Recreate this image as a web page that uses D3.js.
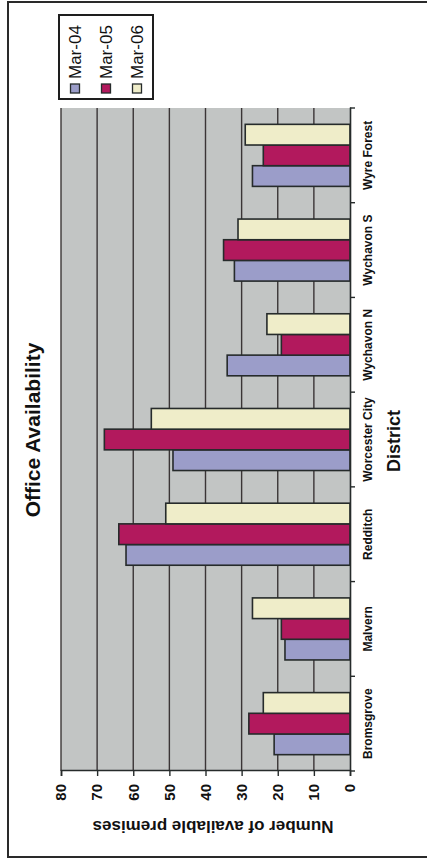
<!DOCTYPE html>
<html>
<head>
<meta charset="utf-8">
<script src="https://cdn.jsdelivr.net/npm/d3@7"></script>
<style>
  html, body { margin: 0; padding: 0; background: #ffffff; }
  svg { display: block; }
  text { font-family: "Liberation Sans", Arial, Helvetica, sans-serif; }
</style>
</head>
<body>
<script>
// Office availability by district, three survey dates
const districts = ["Bromsgrove", "Malvern", "Redditch", "Worcester City", "Wychavon N", "Wychavon S", "Wyre Forest"];
const seriesNames = ["Mar-04", "Mar-05", "Mar-06"];
const mar04 = [21, 18, 62, 49, 34, 32, 27];
const mar05 = [28, 19, 64, 68, 19, 35, 24];
const mar06 = [24, 27, 51, 55, 23, 31, 29];
const valueTicks = [0, 10, 20, 30, 40, 50, 60, 70, 80];
const seriesColors = ["#9b9dc9", "#b2195d", "#efedc9"];

const W = 427, H = 865;
const svg = d3.select("body").append("svg").attr("width", W).attr("height", H);

// The sheet is laid out landscape (H wide, W tall) and turned a quarter turn
const g = svg.append("g").attr("transform", `translate(0,${H}) rotate(-90)`);

const plot = { left: 94, right: 757, top: 61, bottom: 350 };
const ink = "#262b2b";

// outer frame (runs off the right edge of the page)
g.append("rect")
  .attr("x", 8).attr("y", 8)
  .attr("width", 855).attr("height", 460)
  .attr("fill", "none").attr("stroke", "#2a2a2a").attr("stroke-width", 2);

const x0 = d3.scaleBand().domain(districts).range([plot.left, plot.right]).padding(0);
const groupFrac = 0.655;
const gap = x0.bandwidth() * (1 - groupFrac) / 2;
const x1 = d3.scaleBand().domain(seriesNames).range([gap, x0.bandwidth() - gap]).padding(0);
const y = d3.scaleLinear().domain([0, 80]).range([plot.bottom, plot.top]);

// plot background
g.append("rect")
  .attr("x", plot.left).attr("y", plot.top)
  .attr("width", plot.right - plot.left).attr("height", plot.bottom - plot.top)
  .attr("fill", "#c2c5c4");

// horizontal gridlines
g.append("g").selectAll("line").data(valueTicks.filter(v => v > 0)).join("line")
  .attr("x1", plot.left).attr("x2", plot.right)
  .attr("y1", d => y(d)).attr("y2", d => y(d))
  .attr("stroke", "#3a3536").attr("stroke-width", 1.4);

// bars
const series = [mar04, mar05, mar06];
const groups = g.append("g").selectAll("g").data(districts).join("g")
  .attr("transform", d => `translate(${x0(d)},0)`);
groups.selectAll("rect")
  .data((d, i) => seriesNames.map((s, k) => ({ s, v: series[k][i], k })))
  .join("rect")
  .attr("x", d => x1(d.s))
  .attr("y", d => y(d.v))
  .attr("width", x1.bandwidth())
  .attr("height", d => y(0) - y(d.v))
  .attr("fill", d => seriesColors[d.k])
  .attr("stroke", ink).attr("stroke-width", 1.6);

// value axis
const yAxis = d3.axisLeft(y).tickValues(valueTicks).tickSize(5).tickPadding(8);
const ya = g.append("g").attr("transform", `translate(${plot.left},0)`).call(yAxis);
ya.select(".domain").attr("stroke", ink).attr("stroke-width", 1.6);
ya.selectAll(".tick line").attr("stroke", ink).attr("stroke-width", 1.4);
ya.selectAll(".tick text")
  .attr("fill", "#111").attr("font-size", 15).attr("font-weight", "bold")
  .attr("font-family", '"Liberation Sans", Arial, sans-serif');

// category axis
const xAxis = d3.axisBottom(x0).tickSize(0).tickPadding(0);
const xa = g.append("g").attr("transform", `translate(0,${plot.bottom})`).call(xAxis);
xa.select(".domain").attr("stroke", ink).attr("stroke-width", 1.6);
xa.selectAll(".tick text")
  .attr("dy", null).attr("y", 22)
  .attr("fill", "#111").attr("font-size", 12).attr("font-weight", "bold")
  .attr("font-family", '"Liberation Sans", Arial, sans-serif');
// tick marks between districts
xa.append("g").selectAll("line")
  .data(d3.range(districts.length + 1))
  .join("line")
  .attr("x1", i => plot.left + i * x0.step()).attr("x2", i => plot.left + i * x0.step())
  .attr("y1", 0).attr("y2", 5)
  .attr("stroke", ink).attr("stroke-width", 1.4);

// titles
g.append("text")
  .attr("x", 435).attr("y", 40)
  .attr("text-anchor", "middle")
  .attr("font-size", 21).attr("font-weight", "bold").attr("fill", "#111")
  .text("Office Availability");

g.append("text")
  .attr("x", 424).attr("y", 400)
  .attr("text-anchor", "middle")
  .attr("font-size", 18).attr("font-weight", "bold").attr("fill", "#111")
  .text("District");

g.append("text")
  .attr("transform", "translate(44,213) rotate(-90)")
  .attr("text-anchor", "middle")
  .attr("font-size", 17).attr("font-weight", "bold").attr("fill", "#111")
  .text("Number of available premises");

// legend
const legend = g.append("g");
legend.append("rect")
  .attr("x", 766).attr("y", 59).attr("width", 84).attr("height", 94)
  .attr("fill", "#ffffff").attr("stroke", "#1e1e1e").attr("stroke-width", 2);
const items = legend.selectAll("g").data(seriesNames).join("g")
  .attr("transform", (d, i) => `translate(772,${75 + i * 31})`);
items.append("rect")
  .attr("x", 0).attr("y", -4.5).attr("width", 9).attr("height", 9)
  .attr("fill", (d, i) => seriesColors[i])
  .attr("stroke", ink).attr("stroke-width", 1.3);
items.append("text")
  .attr("x", 14).attr("y", 0).attr("dy", "0.35em")
  .attr("font-size", 17).attr("fill", "#111")
  .text(d => d);
</script>
</body>
</html>
